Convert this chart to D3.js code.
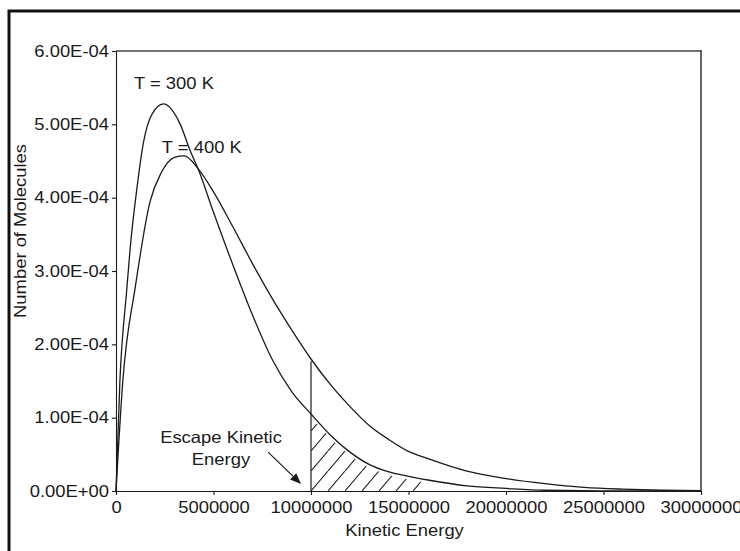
<!DOCTYPE html>
<html>
<head>
<meta charset="utf-8">
<script src="https://cdn.jsdelivr.net/npm/d3@7"></script>
<style>
  body { margin: 0; background: #fff; }
  text { font-family: "Liberation Sans", Arial, Helvetica, sans-serif; fill: #1a1a1a; }
</style>
</head>
<body>
<svg id="chart" width="740" height="551"></svg>
<script>
// kinetic energy samples (x) and number of molecules
var energyT300 = [0, 200000, 550000, 720000, 1060000, 1400000, 1830000, 2430000, 3280000, 3790000, 4260000, 5000000, 6000000, 7000000, 8000000, 9000000, 10000000, 11000000, 12000000, 13000000, 14000000, 15000000, 16000000, 18000000, 20000000, 22000000, 25000000, 30000000];
var moleculesT300 = [0, 1.5e-4, 2.74e-4, 3.29e-4, 4.1e-4, 4.74e-4, 5.13e-4, 5.28e-4, 5.01e-4, 4.65e-4, 4.36e-4, 3.8e-4, 3.08e-4, 2.4e-4, 1.8e-4, 1.36e-4, 1.05e-4, 7.6e-5, 5.3e-5, 3.6e-5, 2.6e-5, 2.0e-5, 1.5e-5, 7e-6, 3.5e-6, 1e-6, 3e-7, 0];

var energyT400 = [0, 350000, 1000000, 1750000, 2300000, 3000000, 3500000, 4200000, 5000000, 6000000, 7000000, 8000000, 9000000, 10000000, 11000000, 12000000, 13000000, 14000000, 15000000, 16000000, 18000000, 20000000, 22000000, 24000000, 26000000, 28000000, 30000000];
var moleculesT400 = [0, 1.5e-4, 2.8e-4, 3.95e-4, 4.33e-4, 4.55e-4, 4.57e-4, 4.4e-4, 4.08e-4, 3.6e-4, 3.1e-4, 2.63e-4, 2.2e-4, 1.8e-4, 1.45e-4, 1.15e-4, 8.9e-5, 7.0e-5, 5.4e-5, 4.4e-5, 2.7e-5, 1.7e-5, 1.0e-5, 5e-6, 2.5e-6, 1e-6, 5e-7];

var xTicks = [0, 5000000, 10000000, 15000000, 20000000, 25000000, 30000000];
var xTickLabels = ["0", "5000000", "10000000", "15000000", "20000000", "25000000", "30000000"];
var yTicks = [0, 1e-4, 2e-4, 3e-4, 4e-4, 5e-4, 6e-4];
var yTickLabels = ["0.00E+00", "1.00E-04", "2.00E-04", "3.00E-04", "4.00E-04", "5.00E-04", "6.00E-04"];

var escapeEnergy = 10000000;
var escapeTop = 1.77e-4;       // where the marker line meets the T = 400 K curve
var hatchEnd = 16000000;

var curveLabels = [
  { text: "T = 300 K", e: 2970000, v: 5.48e-4 },
  { text: "T = 400 K", e: 4400000, v: 4.61e-4 }
];
var escapeLabel = ["Escape Kinetic", "Energy"];
var arrowFrom = { e: 7800000, v: 5.3e-5 };
var arrowTo = { e: 9490000, v: 9.5e-6 };

var svg = d3.select("#chart"),
  margin = { top: 51, right: 39, bottom: 60, left: 116 },
  width = +svg.attr("width") - margin.left - margin.right,
  height = +svg.attr("height") - margin.top - margin.bottom;

var stretch = 1.13; // the reference type is a little wider than Arial
var ink = "#1a1a1a";

// outer frame (only top and left edges are visible)
svg.append("path")
  .attr("d", "M9,551V11H740")
  .attr("fill", "none")
  .attr("stroke", "#111")
  .attr("stroke-width", 3);

var x = d3.scaleLinear().domain([0, 30000000]).range([0, width]);
var y = d3.scaleLinear().domain([0, 6e-4]).range([height, 0]);

var g = svg.append("g")
  .attr("transform", "translate(" + margin.left + "," + margin.top + ")");

// plot box top and right
g.append("line")
  .attr("x1", 0).attr("x2", width).attr("y1", 0).attr("y2", 0)
  .attr("stroke", "#707070").attr("stroke-width", 2);
g.append("line")
  .attr("x1", width).attr("x2", width).attr("y1", -1).attr("y2", height)
  .attr("stroke", "#333").attr("stroke-width", 1.5);

// hatch pattern for the escaping molecules
var defs = svg.append("defs");
var pat = defs.append("pattern")
  .attr("id", "hatch")
  .attr("patternUnits", "userSpaceOnUse")
  .attr("x", x(escapeEnergy))
  .attr("y", height)
  .attr("width", 17)
  .attr("height", 20);
pat.append("path")
  .attr("d", "M-2,22.35L19,-2.35")
  .attr("stroke", ink)
  .attr("stroke-width", 1.1);

var t300 = energyT300.map(function(e, i) { return { e: e, v: moleculesT300[i] }; });
var t400 = energyT400.map(function(e, i) { return { e: e, v: moleculesT400[i] }; });

var hatchPts = t300.filter(function(d) { return d.e >= escapeEnergy && d.e <= hatchEnd; });

g.append("path")
  .datum(hatchPts)
  .attr("fill", "url(#hatch)")
  .attr("d", d3.area()
    .curve(d3.curveMonotoneX)
    .x(function(d) { return x(d.e); })
    .y0(height)
    .y1(function(d) { return y(d.v) + 3; }));

var line = d3.line()
  .curve(d3.curveMonotoneX)
  .x(function(d) { return x(d.e); })
  .y(function(d) { return y(d.v); });

[t300, t400].forEach(function(series) {
  g.append("path")
    .datum(series)
    .attr("fill", "none")
    .attr("stroke", ink)
    .attr("stroke-width", 1.3)
    .attr("d", line);
});

// escape energy marker
g.append("line")
  .attr("x1", x(escapeEnergy)).attr("x2", x(escapeEnergy))
  .attr("y1", y(0)).attr("y2", y(escapeTop))
  .attr("stroke", ink).attr("stroke-width", 1.2);

// axes
var xAxis = g.append("g")
  .attr("class", "x axis")
  .attr("transform", "translate(0," + height + ")")
  .call(d3.axisBottom(x)
    .tickValues(xTicks)
    .tickFormat(function(d, i) { return xTickLabels[i]; })
    .tickSizeInner(4)
    .tickSizeOuter(0));

var yAxis = g.append("g")
  .attr("class", "y axis")
  .call(d3.axisLeft(y)
    .tickValues(yTicks)
    .tickFormat(function(d, i) { return yTickLabels[i]; })
    .tickSizeInner(4)
    .tickSizeOuter(0));

g.selectAll(".axis path, .axis line").attr("stroke", ink).attr("stroke-width", 1.1);
g.selectAll(".axis text")
  .attr("font-family", null)
  .style("font-size", "16.3px")
  .attr("fill", ink);

xAxis.selectAll("text")
  .attr("y", 22).attr("dy", 0)
  .attr("transform", "scale(" + stretch + ",1)");
yAxis.selectAll("text")
  .attr("x", -7 / stretch)
  .attr("transform", "scale(" + stretch + ",1)");

// axis titles
svg.append("text")
  .attr("transform", "translate(" + (margin.left + width / 2 - 4) + ",536) scale(" + stretch + ",1)")
  .attr("text-anchor", "middle")
  .style("font-size", "16.3px")
  .text("Kinetic Energy");

svg.append("text")
  .attr("transform", "translate(26,231) rotate(-90) scale(" + stretch + ",1)")
  .attr("text-anchor", "middle")
  .style("font-size", "16.3px")
  .text("Number of Molecules");

// curve labels
g.selectAll(".curveLabel")
  .data(curveLabels)
  .enter()
  .append("text")
  .attr("class", "curveLabel")
  .attr("text-anchor", "middle")
  .style("font-size", "16.3px")
  .attr("transform", function(d) {
    return "translate(" + x(d.e) + "," + y(d.v) + ") scale(" + stretch + ",1)";
  })
  .text(function(d) { return d.text; });

// escape annotation
g.selectAll(".escapeLabel")
  .data(escapeLabel)
  .enter()
  .append("text")
  .attr("class", "escapeLabel")
  .attr("text-anchor", "middle")
  .style("font-size", "16.3px")
  .attr("transform", function(d, i) {
    return "translate(" + (221 - margin.left) + "," + (443 - margin.top + i * 22) + ") scale(" + stretch + ",1)";
  })
  .text(function(d) { return d; });

var ax0 = x(arrowFrom.e), ay0 = y(arrowFrom.v), ax1 = x(arrowTo.e), ay1 = y(arrowTo.v);
var ang = Math.atan2(ay1 - ay0, ax1 - ax0);
var headLen = 11, headW = 4.5;
var bx = ax1 - headLen * Math.cos(ang), by = ay1 - headLen * Math.sin(ang);
g.append("line")
  .attr("x1", ax0).attr("y1", ay0).attr("x2", bx).attr("y2", by)
  .attr("stroke", ink).attr("stroke-width", 1.2);
g.append("path")
  .attr("d", "M" + ax1 + "," + ay1 +
    "L" + (bx + headW * Math.sin(ang)) + "," + (by - headW * Math.cos(ang)) +
    "L" + (bx - headW * Math.sin(ang)) + "," + (by + headW * Math.cos(ang)) + "Z")
  .attr("fill", ink);
</script>
</body>
</html>
